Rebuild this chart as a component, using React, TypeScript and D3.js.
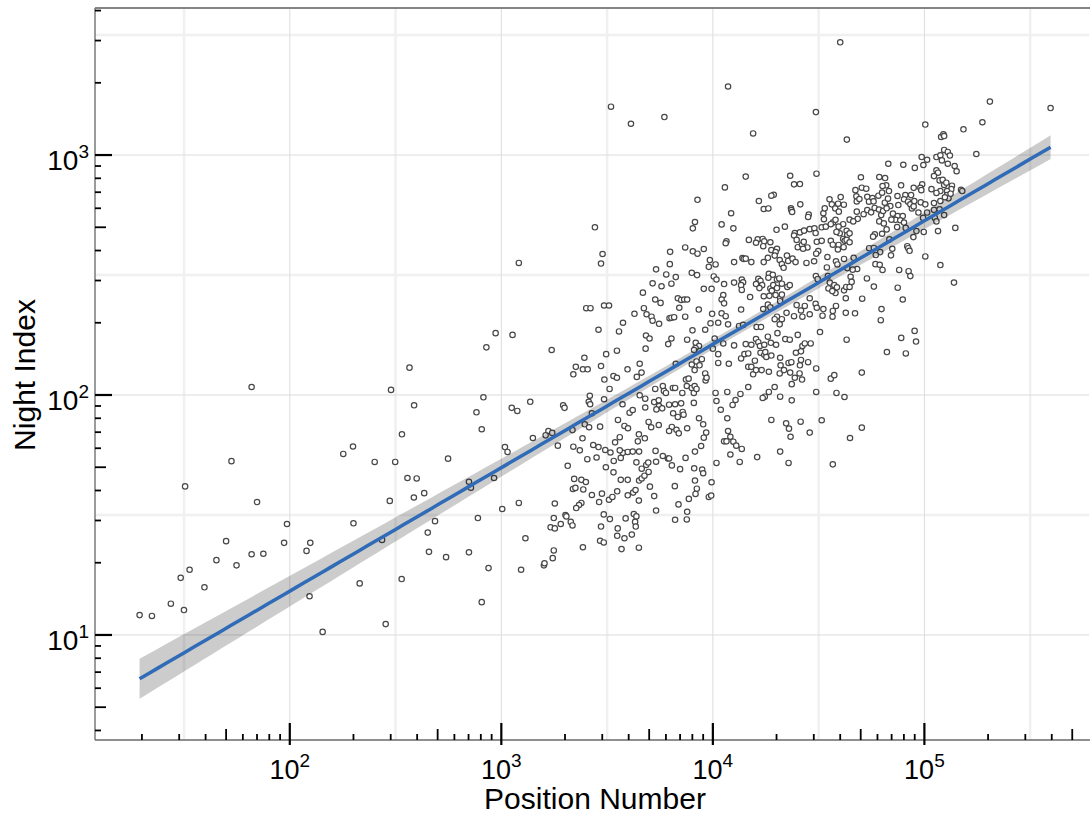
import { useEffect, useRef } from "react";
import * as d3 from "d3";

// [position number, night index]
const samples: [number, number][] = [
  // far left, low positions
  [19.5, 12.1], [22.3, 12.0], [27.4, 13.5], [31.6, 12.7], [30.5, 17.3], [33.6, 18.7], [39.5, 15.8], [45, 20.5],
  [56, 19.5], [124, 14.5], [143, 10.3], [214, 16.4], [284, 11.1], [338, 17.1], [808, 13.7], [870, 19.0],
  [1240, 18.7], [1590, 19.5], [1600, 19.9],
  [66, 108], [53, 53], [32, 41.6], [70, 35.8], [97, 29], [50, 24.6], [94, 24.2], [66, 21.7], [75, 21.8],
  [120, 22.4], [125, 24.2], [179, 56.8], [199, 61], [252, 52.6], [315, 52.6], [200, 29.2], [301, 105],
  [368, 130], [387, 90.6], [339, 68.6], [360, 45.1], [398, 44.9], [297, 36.2], [386, 37.4], [432, 39],
  [560, 54.3], [486, 29.8], [449, 26.7], [455, 22.2], [548, 21.1], [273, 24.9], [703, 43.5], [718, 41.1],
  [775, 30.7], [703, 22.1], [924, 45.1], [1010, 33.5], [850, 158], [940, 181], [1130, 178], [823, 97.8],
  [763, 84.7], [808, 72], [1120, 88.4], [1190, 85.8], [1370, 93.7], [1040, 60.7], [1070, 57.9], [1410, 66.2],
  [1210, 35.5], [1300, 25.3], [1210, 355],
  // top outliers
  [3300, 1590], [4100, 1350], [5900, 1440], [11800, 1930], [40000, 2950], [30700, 1510], [15500, 1230],
  [43000, 1160], [67500, 920], [204000, 1670], [395000, 1570],
  // upper right
  [101000, 1340], [153000, 1280], [188000, 1370], [120000, 1190], [123000, 1220], [124000, 1200], [176000, 1010],
  [97100, 981], [98900, 909], [103000, 956], [90100, 884], [79500, 911],
  [114000, 981], [119000, 997], [124000, 1050], [129000, 1030], [132000, 995], [121000, 950], [129000, 920],
  [139000, 900], [142000, 856],
  [114000, 864], [116000, 844], [111000, 817], [118000, 784], [122000, 789],
  [124000, 750], [127000, 767], [135000, 745], [134000, 721],
  [119000, 708], [114000, 695], [108000, 721], [97600, 755], [95700, 730], [96700, 714], [89000, 730], [77600, 748],
  [68000, 708], [149000, 716], [151000, 708],
  [128000, 708], [128000, 681], [130000, 660], [133000, 690],
  [74600, 675], [81300, 681], [86500, 681], [80100, 654],
  [83700, 639], [85800, 623], [87300, 599], [89000, 611], [89600, 643], [96100, 635], [101000, 623],
  [111000, 631], [111000, 591], [119000, 643], [125000, 667],
  [69000, 613], [75300, 619],
  [71000, 570], [74800, 557], [79000, 557], [73000, 537], [76900, 535], [69800, 538],
  [80100, 523], [74300, 501], [81600, 497],
  [93700, 576], [98600, 547], [103000, 576], [112000, 547], [118000, 594], [124000, 562],
  [91700, 482], [88700, 455], [99300, 478], [114000, 529], [116000, 482], [140000, 497],
  [68300, 445], [70500, 407], [69500, 382],
  [83000, 417], [83900, 409], [85100, 399], [101000, 378], [119000, 348],
  [76000, 332], [84200, 328], [85800, 313], [138000, 294],
  [74800, 280], [79000, 250],
  [89900, 185], [77700, 173], [91300, 167], [81700, 149],
  // middle, upper half
  [8460, 651], [8230, 526], [8040, 495], [2770, 500], [3010, 387], [2960, 353], [7400, 412], [8040, 397],
  [8460, 388], [9060, 406], [6280, 395], [6260, 351], [5390, 334], [6020, 318], [6680, 310], [7950, 323],
  [8420, 316], [9680, 365], [10300, 350], [9570, 342], [10100, 312], [10400, 303], [5190, 292], [5720, 284],
  [6370, 291], [4670, 267], [9060, 277], [9860, 277], [5340, 250], [5660, 242], [6830, 253], [7080, 249],
  [7320, 250], [7560, 250], [6940, 231], [4720, 230], [4860, 217], [5130, 212], [5190, 204], [5570, 198],
  [4260, 218], [2520, 230], [2640, 230], [3060, 236], [3230, 236], [3760, 200], [3600, 184], [2880, 187],
  [6240, 209], [6370, 210], [6560, 211], [7400, 212], [8580, 227], [9920, 218], [9750, 199], [10600, 200],
  [8010, 186], [9200, 187], [4830, 177], [5020, 172], [6370, 172], [6150, 163], [7560, 170], [8300, 165],
  [8600, 160], [8280, 157], [8150, 154], [10200, 172], [10000, 156], [4810, 156], [3520, 153], [3130, 148],
  [2470, 143], [1730, 154], [4510, 135], [6680, 135], [7950, 134], [8370, 138], [8870, 141], [8650, 133],
  [10600, 148], [10600, 136], [2250, 131], [2430, 128], [2560, 128], [2960, 132], [3950, 128],
  // middle, lower half
  [2190, 122], [3070, 116], [3390, 120], [3520, 118], [4370, 119], [4600, 124], [3250, 106], [2620, 99.3],
  [2590, 93.7], [2630, 91.5], [3060, 96], [1960, 90.6], [1990, 88.4], [2680, 83.9], [2480, 75.5], [2600, 73.4],
  [2930, 73.8], [1670, 70.8], [1740, 69.5], [1620, 67.9], [2170, 71.4], [1850, 61.5], [2420, 66], [2190, 60.9],
  [2350, 58.8], [2720, 61.9], [2880, 60.7], [3100, 59], [3280, 57.6], [2550, 54], [2820, 54.9], [2060, 50.7],
  [2210, 44.7], [2390, 44.3], [2510, 43.4], [2180, 40.6], [2240, 41.0], [2440, 40.4], [2680, 38.3], [2990, 38.8],
  [1790, 35.3], [2390, 35.5], [2330, 34.8], [2260, 33.8], [2900, 35.8], [3230, 36.6], [3350, 37.6], [3530, 39.7],
  [1770, 30.7], [1710, 28.1], [1790, 27.8], [1910, 29], [2010, 31.6], [2030, 31.2], [2130, 29.6], [2170, 28.6],
  [3050, 31.8], [3260, 30.4], [2960, 28.3], [2930, 24.7], [3050, 24.3], [2430, 23.2], [1770, 22.5], [1750, 20.9],
  [3550, 27.8], [3530, 25.9], [3820, 25.3], [3700, 22.8], [3870, 30.6], [4230, 31.9], [4350, 31.2], [4290, 29.6],
  [4320, 28.3], [4140, 26.2], [4470, 23.1], [5390, 33], [5280, 37.9], [4470, 36.3], [3960, 38.2], [4200, 39.2],
  [4310, 40.2], [3670, 44.3], [3960, 44.3], [3390, 47.6], [3120, 50], [4480, 44], [4610, 44.9], [4750, 46.1],
  [5040, 41.5], [4610, 49.3], [4840, 51.1], [4970, 47.8], [4350, 52.4], [3400, 53.1], [3670, 54.7], [3760, 57.4],
  [3960, 57.9], [4180, 58.1], [4480, 58.1], [3630, 58.8], [3450, 63.5], [3630, 66.7], [4470, 68.6], [4420, 64.1],
  [4770, 66], [3820, 74.3], [3970, 72.7], [3560, 78.7], [4040, 84.4], [4180, 86.6], [3740, 91.5], [4970, 77.2],
  [5110, 73.4], [5550, 75], [4510, 99.7], [4790, 96.5], [4790, 88.7], [5340, 106], [5870, 104], [6000, 102],
  [5800, 109], [5280, 93.4], [5550, 95], [5570, 90], [5410, 87.1], [5760, 88], [6470, 107], [6630, 107],
  [6210, 91.1], [6630, 91.5], [7080, 92.3], [6490, 83.9], [6830, 81], [7200, 85], [7270, 82.8], [7170, 102],
  [7530, 109], [7460, 116], [7680, 117], [7950, 107], [8200, 109], [8130, 102], [8370, 106], [8130, 92.7],
  [8200, 127], [9200, 123], [9240, 115], [9340, 118], [8600, 80], [9000, 75.5], [9300, 69.7], [9060, 66.4],
  [8800, 61.3], [8230, 58.1], [10300, 102], [10400, 94.4], [6400, 73.6], [6210, 70.8], [6730, 71.6], [6900, 69.2],
  [7560, 72.7], [5800, 55.7], [6130, 54.4], [6210, 54.4], [6400, 50.9], [5360, 58.5], [5390, 52.7], [4950, 52.3],
  [7000, 49.1], [7430, 54.7], [8160, 49.5], [8900, 48.9], [9000, 47.2], [8230, 44], [8400, 40.7], [6610, 41.7],
  [6880, 35], [7560, 32.6], [7530, 30.3], [6630, 30.2], [7700, 36.9], [8280, 38.7], [9570, 37.6], [9820, 38.1],
  [9860, 43.3], [10400, 52.1],
  // dense core, upper
  [14300, 813], [11400, 733], [23200, 820], [30900, 836], [24200, 755], [25800, 757], [19400, 683], [18900, 677],
  [16500, 643], [17400, 596], [18300, 599], [25900, 623], [23400, 600], [23500, 590], [23700, 579], [12200, 572],
  [11000, 514], [12500, 495], [28400, 565], [28200, 552], [21900, 503], [20000, 488], [24400, 473], [25800, 476],
  [27000, 484], [28700, 491], [30200, 495], [30600, 473], [32700, 500], [34200, 503], [33500, 540], [33300, 572],
  [33800, 600], [35600, 654], [36500, 623], [37900, 599], [39400, 581], [39100, 627], [40200, 668], [41600, 621],
  [37000, 524], [38000, 537], [36100, 515], [41300, 515], [42900, 483], [43200, 464], [44300, 472], [39300, 503],
  [39800, 472], [38400, 478], [50100, 808], [47200, 714], [47700, 673], [47900, 641], [49300, 656], [50600, 731],
  [53100, 724], [53700, 670], [54700, 639], [56800, 662], [57500, 641], [60600, 677], [63100, 697], [65200, 802],
  [61200, 810], [66000, 748], [63400, 743], [47900, 581], [48400, 542], [51600, 567], [53700, 590], [56000, 577],
  [58200, 602], [61000, 593], [62500, 562], [63800, 585], [66300, 600], [65000, 633], [67300, 658], [61200, 529],
  [64300, 519], [66300, 490], [63100, 470], [58300, 467], [57200, 457], [44300, 538], [46100, 529], [16300, 445],
  [14800, 443], [16000, 431], [17200, 447], [17500, 437], [17300, 417], [18700, 433], [11600, 437], [11500, 429],
  [18900, 402], [20100, 407], [19800, 394], [24200, 462], [25200, 413], [26400, 423], [26900, 435], [28000, 412],
  [26700, 407], [24900, 443], [31000, 435], [32700, 439], [31500, 398], [30800, 388], [36100, 439], [36900, 423],
  [39300, 422], [39000, 404], [41300, 447], [42000, 439], [42900, 443], [41500, 413], [44300, 433], [13800, 372],
  [14000, 369], [14300, 370], [12600, 358], [15200, 358], [17400, 358], [18200, 373], [19600, 381], [20700, 365],
  [22400, 381], [22700, 362], [21200, 351], [21600, 339], [23800, 370], [24600, 358], [27700, 355], [30100, 361],
  [34800, 376], [41700, 369], [38200, 361], [38800, 350], [46300, 373], [43200, 338], [48100, 335], [45800, 333],
  [34600, 340], [54800, 409], [57700, 410], [61800, 394], [58900, 383], [58700, 351], [61500, 349], [63400, 332],
  [53500, 306], [57700, 283], [18400, 320], [19200, 317], [18300, 308], [20100, 303], [20600, 306], [16400, 305],
  [16800, 299], [16000, 290], [17100, 287], [16600, 279], [13700, 303], [13900, 295], [13600, 287], [13700, 274],
  [11300, 290], [12600, 294], [18700, 278], [19300, 287], [20100, 279], [21200, 291], [22500, 282], [23100, 287],
  [15000, 256], [17400, 258], [18500, 259], [19000, 272], [19800, 261], [20800, 253], [21200, 262], [20800, 246],
  [11200, 261], [11000, 250], [11300, 241], [11000, 219], [11500, 213], [13600, 227], [18200, 238], [18700, 232],
  [17300, 228], [20100, 212], [21200, 207], [22300, 220], [24900, 237], [26100, 225], [27200, 235], [24200, 213],
  [26500, 212], [28700, 217], [28700, 253], [30600, 240], [31000, 231], [30700, 313], [31300, 304], [33300, 228],
  [35000, 313], [35700, 294], [35200, 278], [37500, 287], [38600, 281], [38000, 266], [36700, 271], [36900, 224],
  [36800, 212], [41700, 273], [42500, 253], [42700, 282], [44300, 282], [44800, 311], [45300, 296], [38200, 235],
  [42500, 220], [47000, 219], [50800, 252], [62700, 228], [62200, 205], [11800, 197], [13300, 194], [13900, 196],
  [16100, 192], [16900, 192], [19600, 207], [20700, 197], [33000, 214],
  // dense core, lower
  [11200, 164], [12600, 161], [14300, 163], [15200, 162], [16000, 171], [16400, 166], [16700, 160], [17500, 162],
  [18200, 175], [18800, 165], [19900, 162], [20200, 181], [22000, 171], [23100, 170], [25200, 178], [32100, 183],
  [26500, 160], [27200, 164], [29000, 164], [42900, 170], [66500, 151], [11900, 135], [13600, 142], [14100, 148],
  [14700, 149], [16800, 150], [17500, 147], [17700, 151], [17900, 144], [18900, 146], [15800, 139], [14700, 131],
  [15200, 131], [15500, 122], [16000, 127], [17000, 127], [18400, 125], [20800, 143], [20900, 133], [20700, 123],
  [21700, 127], [22800, 136], [23500, 137], [23200, 124], [24400, 118], [23600, 111], [24700, 150], [26100, 152],
  [26100, 140], [25800, 133], [25700, 123], [26400, 116], [28200, 137], [30800, 129], [36100, 117], [37500, 121],
  [50600, 124], [14700, 108], [11700, 103], [13500, 101], [18400, 103], [19600, 108], [17600, 98.4], [17200, 97.2],
  [20800, 98.4], [23600, 95], [30800, 103], [38400, 102], [41900, 98.1], [12800, 95.3], [12400, 90.9], [10900, 86.8],
  [11700, 80], [18900, 78.7], [22200, 76.2], [22900, 72.4], [23300, 67], [26000, 77.4], [28700, 69.7], [32700, 78.5],
  [11800, 70.8], [12100, 67], [12500, 63.9], [12900, 61.5], [11300, 64.1], [11600, 64.1], [13700, 59.6], [12100, 56.5],
  [13400, 52.6], [16200, 55.1], [20800, 58.1], [22800, 52.1], [36900, 51.4], [44500, 66.2], [50600, 73.1],
];

const xDomain = [12, 600000];
const yDomain = [3.65, 4100];
const xLabelExps = [2, 3, 4, 5];
const yLabelExps = [1, 2, 3];
const xTitle = "Position Number";
const yTitle = "Night Index";

const W = 1090;
const H = 818;
const FONT = "'Liberation Sans', Arial, Helvetica, sans-serif";

// 2..9 times each power of ten inside the domain
function minorTicks(domain: number[]) {
  const out: number[] = [];
  for (let e = Math.floor(Math.log10(domain[0])); e <= Math.ceil(Math.log10(domain[1])); e++) {
    for (let m = 2; m <= 9; m++) {
      const v = m * Math.pow(10, e);
      if (v > domain[0] && v < domain[1]) out.push(v);
    }
  }
  return out;
}

function gridValues(domain: number[], step: number) {
  const out: number[] = [];
  const lo = Math.log10(domain[0]);
  const hi = Math.log10(domain[1]);
  for (let e = Math.ceil(lo / step) * step; e < hi; e += step) out.push(Math.pow(10, e));
  return out;
}

export default function App() {
  const ref = useRef<SVGSVGElement>(null);

  useEffect(() => {
    const svg = d3.select(ref.current);
    svg.selectAll("*").remove();

    const left = 95;
    const right = 1089;
    const top = 8;
    const bottom = 740;

    const x = d3.scaleLog().domain(xDomain).range([left, right]);
    const y = d3.scaleLog().domain(yDomain).range([bottom, top]);

    // gridlines: faint at half decades, darker at decades
    const halfX = gridValues(xDomain, 0.5).filter((v) => Math.abs(Math.log10(v) % 1) > 0.1);
    const halfY = gridValues(yDomain, 0.5).filter((v) => Math.abs(Math.log10(v) % 1) > 0.1);
    const decX = xLabelExps.map((e) => Math.pow(10, e));
    const decY = yLabelExps.map((e) => Math.pow(10, e));

    const grid = svg.append("g");
    grid.selectAll(".hx").data(halfX).enter().append("line")
      .attr("x1", (d) => x(d)).attr("x2", (d) => x(d)).attr("y1", top).attr("y2", bottom)
      .attr("stroke", "#f0f0f0").attr("stroke-width", 2.5);
    grid.selectAll(".hy").data(halfY).enter().append("line")
      .attr("y1", (d) => y(d)).attr("y2", (d) => y(d)).attr("x1", left).attr("x2", right)
      .attr("stroke", "#f0f0f0").attr("stroke-width", 2.5);
    grid.selectAll(".dx").data(decX).enter().append("line")
      .attr("x1", (d) => x(d)).attr("x2", (d) => x(d)).attr("y1", top).attr("y2", bottom)
      .attr("stroke", "#dcdcdc").attr("stroke-width", 1);
    grid.selectAll(".dy").data(decY).enter().append("line")
      .attr("y1", (d) => y(d)).attr("y2", (d) => y(d)).attr("x1", left).attr("x2", right)
      .attr("stroke", "#dcdcdc").attr("stroke-width", 1);

    // points
    svg.append("g").selectAll("circle").data(samples).enter().append("circle")
      .attr("cx", (d) => x(d[0]))
      .attr("cy", (d) => y(d[1]))
      .attr("r", 2.7)
      .attr("fill", "#fff")
      .attr("stroke", "#474747")
      .attr("stroke-width", 1.2);

    // least squares fit in log-log space with 95% confidence band
    const lx = samples.map((d) => Math.log10(d[0]));
    const ly = samples.map((d) => Math.log10(d[1]));
    const n = lx.length;
    const mx = d3.mean(lx) as number;
    const my = d3.mean(ly) as number;
    let sxx = 0;
    let sxy = 0;
    for (let i = 0; i < n; i++) {
      sxx += (lx[i] - mx) ** 2;
      sxy += (lx[i] - mx) * (ly[i] - my);
    }
    const slope = sxy / sxx;
    const icpt = my - slope * mx;
    let sse = 0;
    for (let i = 0; i < n; i++) sse += (ly[i] - icpt - slope * lx[i]) ** 2;
    const s = Math.sqrt(sse / (n - 2));
    const [xmin, xmax] = d3.extent(lx) as [number, number];
    const fit = d3.range(0, 101).map((i) => {
      const v = xmin + ((xmax - xmin) * i) / 100;
      const yhat = icpt + slope * v;
      const se = s * Math.sqrt(1 / n + (v - mx) ** 2 / sxx);
      return { v, yhat, lo: yhat - 1.96 * se, hi: yhat + 1.96 * se };
    });

    const band = d3.area<any>()
      .x((d) => x(Math.pow(10, d.v)))
      .y0((d) => y(Math.pow(10, d.lo)))
      .y1((d) => y(Math.pow(10, d.hi)));
    svg.append("path").datum(fit).attr("d", band).attr("fill", "#000").attr("fill-opacity", 0.2);

    const line = d3.line<any>()
      .x((d) => x(Math.pow(10, d.v)))
      .y((d) => y(Math.pow(10, d.yhat)));
    svg.append("path").datum(fit).attr("d", line)
      .attr("fill", "none").attr("stroke", "#2f6bb6").attr("stroke-width", 3.5);

    // frame
    svg.append("line").attr("x1", left).attr("x2", W).attr("y1", top).attr("y2", top)
      .attr("stroke", "#858585").attr("stroke-width", 2);
    svg.append("line").attr("x1", left).attr("x2", left).attr("y1", top).attr("y2", bottom)
      .attr("stroke", "#7a7a7a").attr("stroke-width", 1.5);
    svg.append("line").attr("x1", left).attr("x2", W).attr("y1", bottom).attr("y2", bottom)
      .attr("stroke", "#6a6a6a").attr("stroke-width", 1.5);

    // ticks
    const tk = svg.append("g").attr("stroke", "#000").attr("stroke-width", 1.8);
    const minorLen = (v: number) => (Math.round(v / Math.pow(10, Math.floor(Math.log10(v) + 1e-9))) === 5 ? 11 : 6);
    tk.selectAll(".mx").data(minorTicks(xDomain)).enter().append("line")
      .attr("x1", (d) => x(d)).attr("x2", (d) => x(d))
      .attr("y1", bottom).attr("y2", (d) => bottom - minorLen(d));
    tk.selectAll(".Mx").data(decX).enter().append("line")
      .attr("x1", (d) => x(d)).attr("x2", (d) => x(d))
      .attr("y1", bottom + 5).attr("y2", bottom - 17).attr("stroke-width", 2.2);
    tk.selectAll(".my").data(minorTicks(yDomain)).enter().append("line")
      .attr("y1", (d) => y(d)).attr("y2", (d) => y(d))
      .attr("x1", left).attr("x2", (d) => left + minorLen(d));
    tk.selectAll(".My").data(decY).enter().append("line")
      .attr("y1", (d) => y(d)).attr("y2", (d) => y(d))
      .attr("x1", left).attr("x2", left + 17).attr("stroke-width", 2.2);

    // tick labels as 10 with a superscript
    const xl = svg.append("g").attr("font-family", FONT).attr("fill", "#000");
    xLabelExps.forEach((e) => {
      const t = xl.append("text").attr("x", x(Math.pow(10, e))).attr("y", 779)
        .attr("text-anchor", "middle").attr("font-size", 27);
      t.append("tspan").text("10");
      t.append("tspan").attr("dy", -12).attr("font-size", 19).text(String(e));
    });
    yLabelExps.forEach((e) => {
      const t = xl.append("text").attr("x", 89).attr("y", y(Math.pow(10, e)) + 15)
        .attr("text-anchor", "end").attr("font-size", 28);
      t.append("tspan").text("10");
      t.append("tspan").attr("dy", -12).attr("font-size", 19).text(String(e));
    });

    // axis titles
    svg.append("text").attr("x", 595).attr("y", 809).attr("text-anchor", "middle")
      .attr("font-family", FONT).attr("font-size", 30).text(xTitle);
    svg.append("text").attr("transform", "translate(35,375) rotate(-90)").attr("text-anchor", "middle")
      .attr("font-family", FONT).attr("font-size", 30).text(yTitle);
  }, []);

  return (
    <svg
      ref={ref}
      width={W}
      height={H}
      style={{ position: "absolute", left: 0, top: 0, background: "#fff" }}
    />
  );
}
